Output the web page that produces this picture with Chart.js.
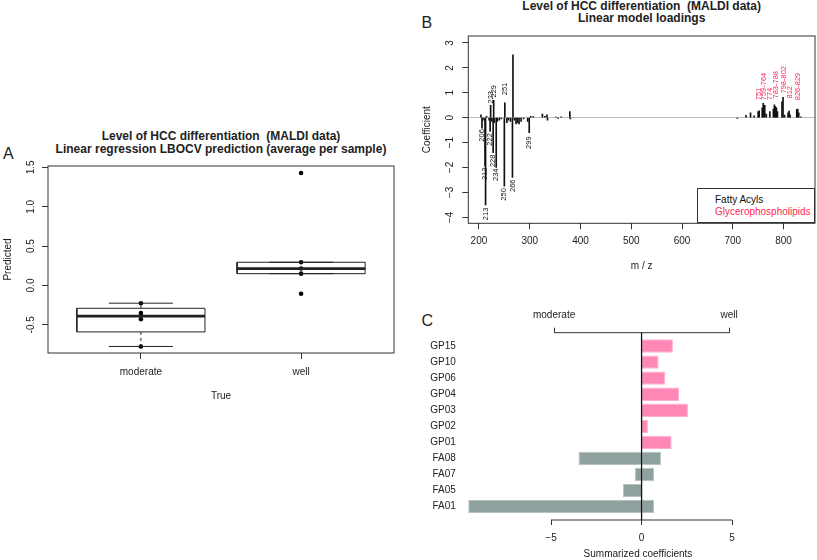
<!DOCTYPE html>
<html>
<head>
<meta charset="utf-8">
<script src="https://cdn.jsdelivr.net/npm/chart.js@4.4.1/dist/chart.umd.min.js"></script>
<style>
  body { margin: 0; background: #fff; width: 817px; height: 560px; overflow: hidden; position: relative;
         font-family: "Liberation Sans", Arial, Helvetica, sans-serif; color: #222; }
  canvas { position: absolute; }
  .title { position: absolute; font-weight: bold; font-size: 12px; text-align: center; white-space: nowrap; }
  .letter { position: absolute; font-size: 16px; line-height: 16px; }
  .legend { position: absolute; border: 1px solid #333; box-sizing: border-box; font-size: 10px; line-height: 11.7px;
            padding: 5.7px 0 0 17.3px; background: #fff; }
</style>
</head>
<body>
<div class="letter" style="left:3px;top:146px">A</div>
<div class="letter" style="left:421.5px;top:14.5px">B</div>
<div class="letter" style="left:421.5px;top:313px">C</div>

<div class="title" style="left:21px;width:400px;top:129.5px;line-height:13px">Level of HCC differentiation&nbsp; (MALDI data)<br>Linear regression LBOCV prediction (average per sample)</div>
<div class="title" style="left:441.7px;width:400px;top:0px;line-height:12px">Level of HCC differentiation&nbsp; (MALDI data)<br>Linear model loadings</div>

<canvas id="chartA" width="410" height="250" style="left:0px;top:160px"></canvas>
<canvas id="chartB" width="417" height="250" style="left:400px;top:30px"></canvas>
<canvas id="chartC" width="417" height="260" style="left:400px;top:300px"></canvas>

<div class="legend" style="left:696.7px;top:187.7px;width:118.3px;height:35.6px">
  <div style="color:#111">Fatty Acyls</div>
  <div style="color:#ff1f55">Glycerophospholipids</div>
</div>

<script>
// ---- panel A: boxplot of predictions ----
const groupNames = ['moderate', 'well'];
const groupPos = [1, 2];
const boxLow = [-0.59, 0.15];
const boxMedian = [-0.39, 0.215];
const boxHigh = [-0.29, 0.295];
const whiskerLow = [-0.775, 0.15];
const whiskerHigh = [-0.225, 0.295];
const moderatePoints = [-0.225, -0.35, -0.38, -0.43, -0.775];
const wellPoints = [1.43, 0.295, 0.215, 0.15, -0.105];
const predTicks = [-0.5, 0, 0.5, 1, 1.5];
const predTickLabels = ['-0.5', '0.0', '0.5', '1.0', '1.5'];

// ---- panel B: loadings ----
const mzValues = [204, 206, 208, 212, 213, 215, 220, 222, 223, 225, 228, 229, 230, 234, 236, 240, 244,
  250, 251, 255, 258, 262, 266, 267, 270, 273, 276, 279, 283, 288, 296, 299, 302, 307, 325, 330, 334,
  335, 352, 356, 362, 379, 380,
  709, 726, 735, 742, 750, 752, 758, 760, 763, 766, 773, 780, 782, 784, 786, 788, 797, 799, 802, 809,
  811, 813, 826, 828, 830, 834];
const coefValues = [0.12, -0.42, -0.1, -1.94, -3.5, 0.05, -0.1, -0.55, 0.5, -0.15, -1.4, 0.7, -0.2, -2.0, -0.15, -0.1, -0.05,
  -2.75, 0.6, -0.2, -0.1, -0.15, -2.4, 2.52, -0.1, -0.25, -0.2, -0.25, -0.15, -0.05, -0.15, -0.6, 0.05, 0.04, 0.15, 0.05, 0.12,
  -0.1, 0.02, -0.03, 0.03, 0.25, -0.05,
  -0.03, 0.09, 0.2, 0.07, 0.25, 0.28, 0.4, 0.58, 0.5, 0.15, 0.25, 0.35, 0.52, 0.45, 0.4, 0.25, 0.64, 0.82, 0.1, 0.2,
  0.27, 0.1, 0.33, 0.35, 0.2, 0.03];
const faLabels = ['206', '212', '213', '222', '223', '228', '229', '234', '250', '251', '266', '299'];
const faLabelAt = [-0.4, -1.94, -3.55, -0.56, 0.51, -1.42, 0.75, -1.98, -2.77, 0.84, -2.42, -0.69];
const gpLabels = ['751', '759-764', '774', '783-788', '798-802', '812', '826-829'];
const gpLabelAt = [0.64, 0.64, 0.64, 0.71, 0.91, 0.71, 0.64];
const mzTicks = [200, 300, 400, 500, 600, 700, 800];
const coefTicks = [-4, -3, -2, -1, 0, 1, 2, 3];
const coefTickLabels = ['\u22124', '\u22123', '\u22122', '\u22121', '0', '1', '2', '3'];

// ---- panel C: summarized coefficients ----
const classNames = ['GP15', 'GP10', 'GP06', 'GP04', 'GP03', 'GP02', 'GP01', 'FA08', 'FA07', 'FA05', 'FA01'];
const sumPositive = [1.73, 0.94, 1.31, 2.07, 2.56, 0.35, 1.66, 1.07, 0.69, 0, 0.69];
const sumNegative = [0, 0, 0, 0, 0, 0, 0, -3.48, -0.37, -1.03, -9.57];
const sumTicks = [-5, 0, 5];
const sumTickLabels = ['\u22125', '0', '5'];
const directionLabels = ['moderate', 'well'];
const directionAt = [-4.83, 4.83];

Chart.defaults.font.family = '"Liberation Sans", Arial, Helvetica, sans-serif';
Chart.defaults.font.size = 10;
Chart.defaults.color = '#222';

const INK = '#333';
const FONT = '10px "Liberation Sans", Arial, Helvetica, sans-serif';

// R-style rotated y tick labels
const rotatedYLabels = {
  id: 'rotatedYLabels',
  afterDraw(chart, args, opts) {
    const scale = chart.scales.y;
    const ctx = chart.ctx;
    ctx.save();
    ctx.font = FONT;
    ctx.fillStyle = '#222';
    ctx.textAlign = 'center';
    ctx.textBaseline = 'middle';
    scale.ticks.forEach((t, i) => {
      ctx.save();
      ctx.translate(opts.x, scale.getPixelForValue(t.value));
      ctx.rotate(-Math.PI / 2);
      ctx.fillText(opts.labels[i], 0, 0);
      ctx.restore();
    });
    ctx.restore();
  }
};

const plotBox = {
  id: 'plotBox',
  afterDraw(chart) {
    const { ctx, chartArea: a } = chart;
    ctx.save();
    ctx.strokeStyle = INK;
    ctx.lineWidth = 1;
    ctx.strokeRect(a.left, a.top, a.right - a.left, a.bottom - a.top);
    ctx.restore();
  }
};

function fixedScale(size, horizontal) {
  return horizontal ? s => { s.height = size; } : s => { s.width = size; };
}
function setTicks(values) {
  return s => { s.ticks = values.map(v => ({ value: v })); };
}

// ---------- A ----------
function seg(points, width, dash) {
  return {
    data: points, showLine: true, borderColor: '#222', borderWidth: width,
    borderDash: dash || [], pointRadius: 0, fill: false
  };
}
const boxDatasets = [];
groupPos.forEach((p, g) => {
  boxDatasets.push(seg([{ x: p, y: boxHigh[g] }, { x: p, y: whiskerHigh[g] }], 1, [3, 3]));
  boxDatasets.push(seg([{ x: p, y: boxLow[g] }, { x: p, y: whiskerLow[g] }], 1, [3, 3]));
  boxDatasets.push(seg([{ x: p - 0.2, y: whiskerHigh[g] }, { x: p + 0.2, y: whiskerHigh[g] }], 1));
  boxDatasets.push(seg([{ x: p - 0.2, y: whiskerLow[g] }, { x: p + 0.2, y: whiskerLow[g] }], 1));
  boxDatasets.push(seg([
    { x: p - 0.4, y: boxLow[g] }, { x: p + 0.4, y: boxLow[g] }, { x: p + 0.4, y: boxHigh[g] },
    { x: p - 0.4, y: boxHigh[g] }, { x: p - 0.4, y: boxLow[g] }], 1));
  boxDatasets.push(seg([{ x: p - 0.4, y: boxMedian[g] }, { x: p + 0.4, y: boxMedian[g] }], 2.7));
});
[moderatePoints, wellPoints].forEach((pts, g) => {
  boxDatasets.push({
    data: pts.map(v => ({ x: groupPos[g], y: v })),
    pointRadius: 2.3, pointBackgroundColor: '#000', pointBorderWidth: 0, showLine: false
  });
});

new Chart(document.getElementById('chartA'), {
  type: 'scatter',
  data: { datasets: boxDatasets },
  plugins: [rotatedYLabels, plotBox],
  options: {
    responsive: false, animation: false, events: [],
    layout: { padding: { left: 0, right: 16, top: 6, bottom: 0 } },
    plugins: { legend: { display: false }, tooltip: { enabled: false },
      rotatedYLabels: { x: 31.7, labels: predTickLabels } },
    scales: {
      x: {
        type: 'linear', min: 0.42, max: 2.58, offset: false,
        afterBuildTicks: setTicks(groupPos), afterFit: fixedScale(57, true),
        ticks: { callback: (v, i) => groupNames[i], padding: 7.3, autoSkip: false, maxRotation: 0 },
        grid: { drawOnChartArea: false, tickLength: 6, tickColor: INK },
        border: { display: false },
        title: { display: true, text: 'True', padding: { top: 0, bottom: 8 } }
      },
      y: {
        min: -0.858, max: 1.518,
        afterBuildTicks: setTicks(predTicks), afterFit: fixedScale(48, false),
        ticks: { display: false },
        grid: { drawOnChartArea: false, tickLength: 6, tickColor: INK },
        border: { display: false },
        title: { display: true, text: 'Predicted', padding: { top: 2, bottom: 0 } }
      }
    }
  }
});

// ---------- B ----------
const peakLabels = {
  id: 'peakLabels',
  afterDatasetsDraw(chart) {
    const { ctx, scales: { x, y } } = chart;
    ctx.save();
    ctx.font = '7.5px "Liberation Sans", Arial, Helvetica, sans-serif';
    ctx.textBaseline = 'middle';
    const put = (text, at, color) => {
      const parts = text.split('-').map(Number);
      const mz = parts.reduce((a, b) => a + b, 0) / parts.length;
      ctx.save();
      ctx.fillStyle = color;
      ctx.translate(x.getPixelForValue(mz), y.getPixelForValue(at) + (at < 0 ? 1.5 : -1.5));
      ctx.rotate(-Math.PI / 2);
      ctx.textAlign = at < 0 ? 'right' : 'left';
      ctx.fillText(text, 0, 0);
      ctx.restore();
    };
    faLabels.forEach((t, i) => put(t, faLabelAt[i], '#111'));
    gpLabels.forEach((t, i) => put(t, gpLabelAt[i], '#ff1f55'));
    ctx.restore();
  }
};

new Chart(document.getElementById('chartB'), {
  type: 'bar',
  data: {
    datasets: [{
      data: mzValues.map((m, i) => ({ x: m, y: coefValues[i] })),
      backgroundColor: '#111', borderWidth: 0, barThickness: 1
    }]
  },
  plugins: [rotatedYLabels, plotBox, peakLabels],
  options: {
    responsive: false, animation: false, events: [],
    layout: { padding: { left: 0, right: 2, top: 6, bottom: 0 } },
    plugins: { legend: { display: false }, tooltip: { enabled: false },
      rotatedYLabels: { x: 50, labels: coefTickLabels } },
    scales: {
      x: {
        type: 'linear', min: 179, max: 862, offset: false,
        afterBuildTicks: setTicks(mzTicks), afterFit: fixedScale(56.7, true),
        ticks: { padding: 6.4, autoSkip: false, maxRotation: 0 },
        grid: { drawOnChartArea: false, offset: false, tickLength: 6, tickColor: INK },
        border: { display: false },
        title: { display: true, text: 'm / z', padding: { top: 0, bottom: 7.3 } }
      },
      y: {
        min: -4.24, max: 3.28,
        afterBuildTicks: setTicks(coefTicks), afterFit: fixedScale(68.3, false),
        ticks: { display: false },
        grid: {
          color: c => (c.tick && c.tick.value === 0 ? '#b3c0c0' : 'rgba(0,0,0,0)'),
          tickLength: 6, tickColor: INK
        },
        border: { display: false },
        title: { display: true, text: 'Coefficient', padding: { top: 21.5, bottom: 0 } }
      }
    }
  }
});

// ---------- C ----------
const summaryAxes = {
  id: 'summaryAxes',
  afterDatasetsDraw(chart) {
    const { ctx, chartArea: a, scales: { x } } = chart;
    ctx.save();
    ctx.strokeStyle = INK;
    ctx.lineWidth = 1;
    ctx.beginPath();
    ctx.moveTo(x.getPixelForValue(sumTicks[0]), a.bottom);
    ctx.lineTo(x.getPixelForValue(sumTicks[sumTicks.length - 1]), a.bottom);
    ctx.moveTo(x.getPixelForValue(directionAt[0]), a.top);
    ctx.lineTo(x.getPixelForValue(directionAt[1]), a.top);
    ctx.stroke();
    ctx.strokeStyle = '#111';
    ctx.lineWidth = 1.3;
    ctx.beginPath();
    ctx.moveTo(x.getPixelForValue(0), a.top);
    ctx.lineTo(x.getPixelForValue(0), a.bottom);
    ctx.stroke();
    ctx.restore();
  }
};

const classFill = classNames.map(n => (n.startsWith('GP') ? '#ff87b6' : '#8fa19f'));
const classEdge = classNames.map(n => (n.startsWith('GP') ? '#ffb0cf' : '#b3c2c0'));

new Chart(document.getElementById('chartC'), {
  type: 'bar',
  data: {
    datasets: [
      { data: sumNegative.map((v, i) => ({ x: v, y: i })), backgroundColor: classFill, borderColor: classEdge,
        borderWidth: 1, grouped: false, barPercentage: 0.83, categoryPercentage: 1 },
      { data: sumPositive.map((v, i) => ({ x: v, y: i })), backgroundColor: classFill, borderColor: classEdge,
        borderWidth: 1, grouped: false, barPercentage: 0.83, categoryPercentage: 1 }
    ]
  },
  plugins: [summaryAxes],
  options: {
    indexAxis: 'y',
    responsive: false, animation: false, events: [],
    layout: { padding: { left: 0, right: 7, top: 0, bottom: 0 } },
    plugins: { legend: { display: false }, tooltip: { enabled: false } },
    scales: {
      x: {
        type: 'linear', min: -9.7, max: 9.3, offset: false,
        afterBuildTicks: setTicks(sumTicks), afterFit: fixedScale(40, true),
        ticks: { callback: (v, i) => sumTickLabels[i], padding: 7.3, autoSkip: false, maxRotation: 0 },
        grid: { drawOnChartArea: false, tickLength: 5, tickColor: INK },
        border: { display: false },
        title: { display: true, text: 'Summarized coefficients', padding: { top: 0, bottom: 0 } }
      },
      x2: {
        type: 'linear', position: 'top', min: -9.7, max: 9.3, offset: false,
        afterBuildTicks: setTicks(directionAt), afterFit: fixedScale(32.7, true),
        ticks: { callback: (v, i) => directionLabels[i], padding: 6, autoSkip: false, maxRotation: 0 },
        grid: { drawOnChartArea: false, tickLength: 5, tickColor: INK },
        border: { display: false }
      },
      y: {
        type: 'linear', min: -0.83, max: 10.83, reverse: true, offset: false,
        afterBuildTicks: setTicks(classNames.map((n, i) => i)), afterFit: fixedScale(65.9, false),
        ticks: { callback: (v, i) => classNames[i], padding: 10, autoSkip: false },
        grid: { display: false, drawTicks: false },
        border: { display: false }
      }
    }
  }
});
</script>
</body>
</html>
